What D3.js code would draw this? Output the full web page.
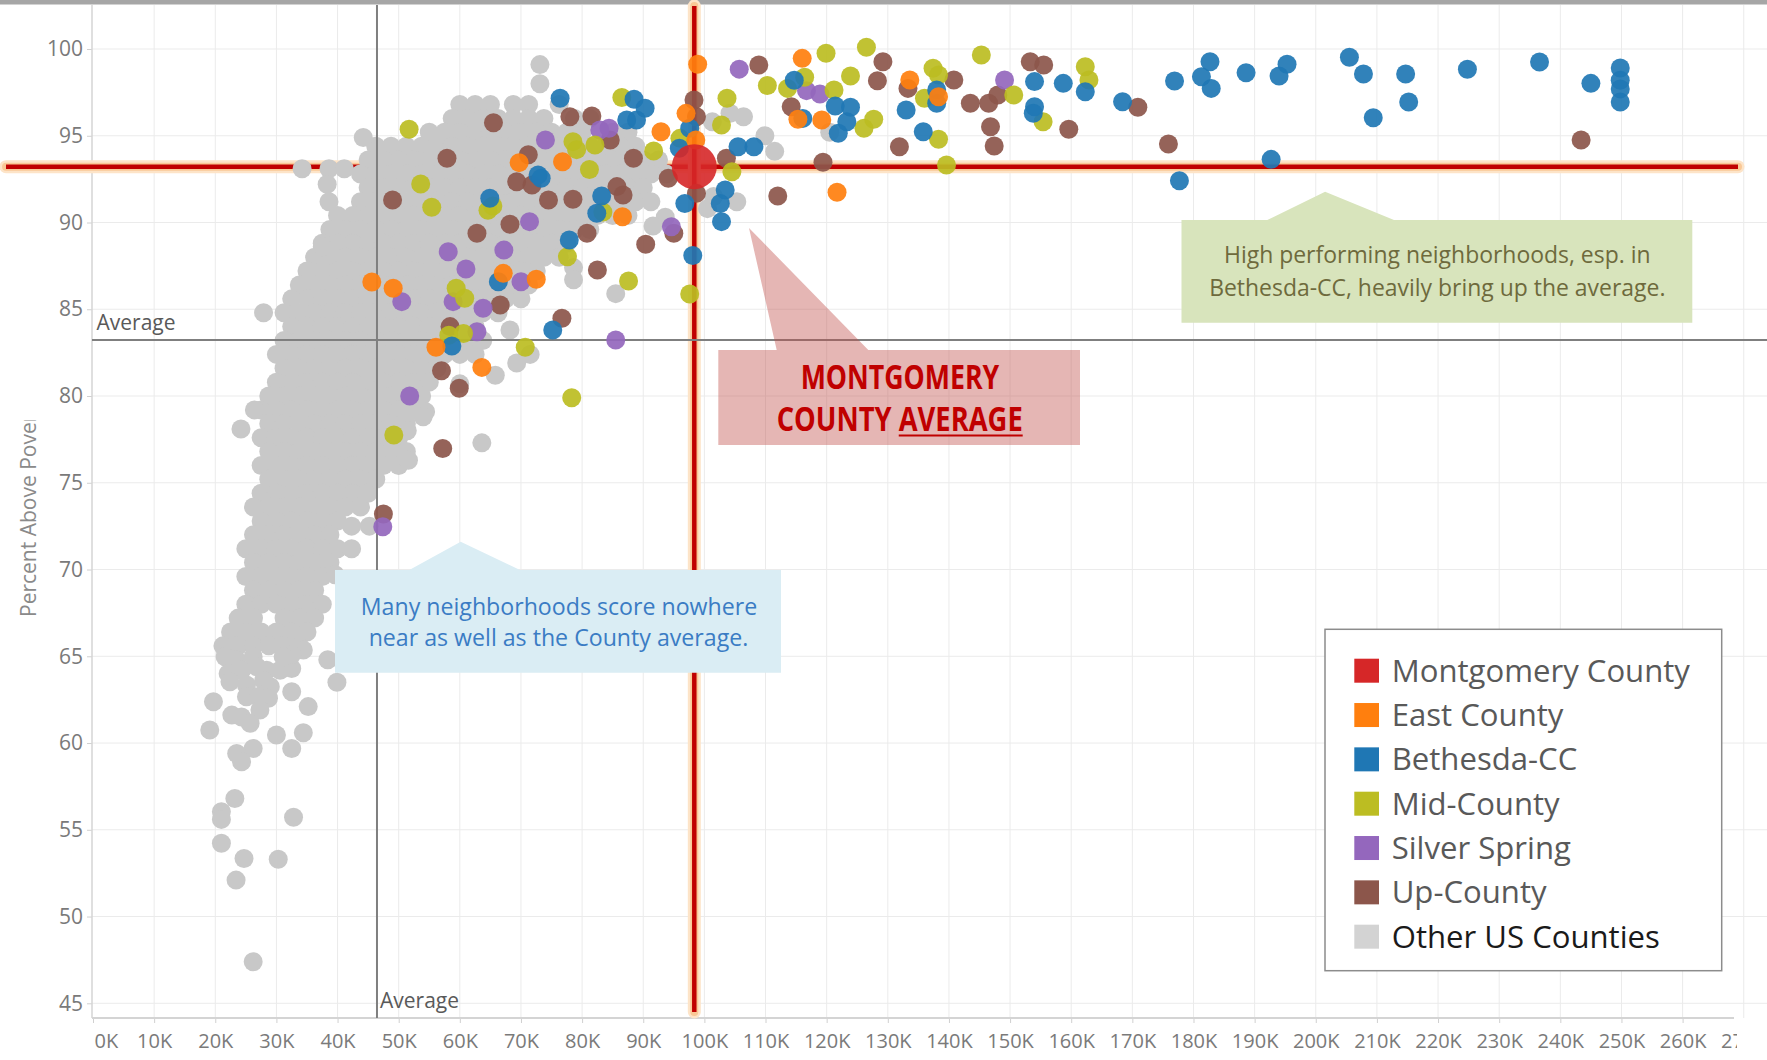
<!DOCTYPE html>
<html>
<head>
<meta charset="utf-8">
<script src="https://cdn.jsdelivr.net/npm/d3@7"></script>
<style>
  body { margin: 0; background: #fff; }
  svg { display: block; }
  text { font-family: "Open Sans", "Noto Sans", sans-serif; }
</style>
</head>
<body>
<svg id="chart"></svg>
<script>
// ---- values: x = median income (K$), y = percent above poverty ----
const xTicks = [0, 10, 20, 30, 40, 50, 60, 70, 80, 90, 100, 110, 120, 130, 140, 150, 160, 170, 180, 190, 200, 210, 220, 230, 240, 250, 260, 270];
const yTicks = [45, 50, 55, 60, 65, 70, 75, 80, 85, 90, 95, 100];

const avgX = 46.45, avgY = 83.23;            // grey "Average" reference lines
const countyAvgX = 98.35, countyAvgY = 93.22; // Montgomery County average (red)

const montgomery = [[98.35, 93.22]];

const eastCounty = [[98.9,99.12],[116.0,99.46],[115.3,95.95],[119.2,95.91],[133.6,98.21],[138.3,97.25],[121.7,91.74],[97.0,96.29],[98.6,94.75],[92.9,95.23],[86.6,90.33],[69.7,93.45],[76.8,93.5],[72.5,86.73],[67.1,87.07],[45.6,86.57],[49.1,86.21],[56.1,82.81],[63.6,81.65]];

const bethesda = [[76.4,97.16],[88.5,97.1],[90.3,96.58],[87.3,95.91],[88.9,95.91],[97.6,95.43],[95.9,94.28],[105.5,94.37],[108.1,94.37],[103.4,91.87],[102.6,91.1],[96.8,91.1],[102.8,90.05],[98.1,88.1],[72.8,92.74],[73.3,92.55],[83.2,91.53],[82.4,90.53],[64.9,91.4],[77.9,88.99],[66.3,86.59],[75.2,83.8],[58.7,82.88],[114.7,98.2],[116.1,96.0],[121.4,96.71],[123.9,96.64],[123.3,95.81],[121.9,95.14],[133.0,96.48],[138.0,97.64],[138.0,96.87],[135.8,95.23],[154.0,98.12],[154.0,96.67],[153.8,96.3],[158.7,98.02],[162.3,97.54],[168.4,96.96],[176.9,98.16],[182.7,99.27],[181.3,98.4],[182.9,97.73],[188.6,98.63],[194.0,98.44],[195.3,99.12],[205.5,99.52],[207.8,98.56],[209.4,96.04],[214.7,98.56],[215.2,96.95],[224.8,98.83],[236.6,99.25],[245.0,98.02],[249.8,98.9],[249.8,98.2],[249.8,97.7],[249.8,96.95],[192.7,93.64],[177.7,92.41]];

const midCounty = [[51.7,95.37],[53.6,92.22],[55.4,90.88],[49.2,77.75],[78.3,79.9],[86.5,97.21],[78.5,94.66],[79.1,94.2],[82.1,94.47],[81.2,93.06],[91.7,94.12],[96.0,94.85],[104.5,92.93],[103.7,97.16],[102.8,95.62],[83.4,90.6],[64.6,90.7],[65.4,90.95],[77.6,88.03],[87.6,86.63],[97.6,85.88],[59.4,86.21],[60.8,85.63],[58.2,83.5],[60.6,83.6],[70.7,82.81],[110.3,97.9],[113.6,97.73],[116.4,98.37],[119.9,99.75],[126.5,100.1],[121.2,97.64],[123.9,98.44],[126.1,95.43],[127.7,95.95],[136.0,97.16],[137.4,98.89],[138.3,98.5],[138.3,94.8],[139.6,93.31],[145.3,99.65],[150.6,97.35],[155.4,95.81],[162.3,98.98],[162.9,98.21]];

const silverSpring = [[105.7,98.84],[116.7,97.6],[118.9,97.4],[149.1,98.21],[84.4,95.43],[82.9,95.33],[74.0,94.76],[94.6,89.76],[71.4,90.05],[67.2,88.41],[61.0,87.32],[58.1,88.32],[70.0,86.59],[63.8,85.06],[58.9,85.44],[50.5,85.44],[62.8,83.7],[51.8,80.0],[85.5,83.23],[47.4,72.47]];

const upCounty = [[108.9,99.08],[129.2,99.27],[128.3,98.17],[114.2,96.67],[133.3,97.73],[140.8,98.21],[131.9,94.37],[143.5,96.87],[146.5,96.87],[146.8,95.52],[147.4,94.41],[148.0,97.35],[153.3,99.27],[155.5,99.08],[159.6,95.37],[170.9,96.64],[175.9,94.52],[243.4,94.76],[119.4,93.47],[112.0,91.53],[98.3,97.06],[98.7,96.1],[103.6,93.7],[88.4,93.7],[94.1,92.55],[98.7,91.68],[95.0,89.38],[90.4,88.75],[78.0,96.1],[81.6,96.14],[84.6,94.76],[65.5,95.75],[57.9,93.7],[49.0,91.3],[71.2,93.9],[69.3,92.35],[71.8,92.16],[74.5,91.3],[78.5,91.34],[85.7,92.07],[86.7,91.59],[68.2,89.9],[62.8,89.38],[80.8,89.38],[82.5,87.26],[66.6,85.25],[76.7,84.48],[58.4,84.0],[57.0,81.46],[59.9,80.45],[57.2,76.98],[47.5,73.2]];

// other US counties: the dense cloud, read row by row (y, then the x's along that row)
const grayRows = [
  [96.8, [60,62.5,65,68.75,71.25,76.25]],
  [96.0, [58.75,61.25,63.75,66.25,68.75,71.25,73.75,78.75,81.25]],
  [95.2, [55,57.5,60,62.5,65,67.5,70,72.5,75,77.5,80,85,87.5]],
  [94.4, [46.25,48.75,51.25,53.75,56.25,58.75,61.25,63.75,66.25,68.75,71.25,73.75,76.25,78.75,81.25,83.75,86.25,88.75]],
  [93.6, [45,47.5,50,52.5,55,57.5,60,62.5,65,67.5,70,72.5,75,77.5,80,82.5,85,87.5,90,92.5]],
  [92.8, [43.75,46.25,48.75,51.25,53.75,56.25,58.75,61.25,63.75,66.25,68.75,71.25,73.75,76.25,78.75,81.25,83.75,86.25,88.75,91.25,93.75]],
  [92.0, [45,47.5,50,52.5,55,57.5,60,62.5,65,67.5,70,72.5,75,77.5,80,82.5,85,87.5,90]],
  [91.2, [43.75,46.25,48.75,51.25,53.75,56.25,58.75,61.25,63.75,66.25,68.75,71.25,73.75,76.25,78.75,81.25,83.75,86.25,88.75,91.25]],
  [90.4, [40,42.5,45,47.5,50,52.5,55,57.5,60,62.5,65,67.5,70,72.5,75,77.5,80,82.5,85,87.5]],
  [89.6, [38.75,41.25,43.75,46.25,48.75,51.25,53.75,56.25,58.75,61.25,63.75,66.25,68.75,71.25,73.75,76.25,78.75,81.25]],
  [88.8, [37.5,40,42.5,45,47.5,50,52.5,55,57.5,60,62.5,65,67.5,70,72.5,75,77.5]],
  [88.0, [36.25,38.75,41.25,43.75,46.25,48.75,51.25,53.75,56.25,58.75,61.25,63.75,66.25,68.75,71.25,73.75,76.25]],
  [87.2, [35,37.5,40,42.5,45,47.5,50,52.5,55,57.5,60,62.5,65,67.5,70,72.5]],
  [86.4, [33.75,36.25,38.75,41.25,43.75,46.25,48.75,51.25,53.75,56.25,58.75,61.25,63.75,66.25,68.75,71.25]],
  [85.6, [32.5,35,37.5,40,42.5,45,47.5,50,52.5,55,57.5,60,62.5,65,67.5,70]],
  [84.8, [31.25,33.75,36.25,38.75,41.25,43.75,46.25,48.75,51.25,53.75,56.25,58.75,61.25,63.75,66.25]],
  [84.0, [32.5,35,37.5,40,42.5,45,47.5,50,52.5,55,57.5,60,62.5]],
  [83.2, [31.25,33.75,36.25,38.75,41.25,43.75,46.25,48.75,51.25,53.75,56.25,58.75,61.25,63.75]],
  [82.4, [30,32.5,35,37.5,40,42.5,45,47.5,50,52.5,55,57.5,60,62.5]],
  [81.6, [31.25,33.75,36.25,38.75,41.25,43.75,46.25,48.75,51.25,53.75,56.25]],
  [80.8, [30,32.5,35,37.5,40,42.5,45,47.5,50,52.5,55]],
  [80.0, [28.75,31.25,33.75,36.25,38.75,41.25,43.75,46.25,48.75,51.25,53.75]],
  [79.2, [27.5,30,32.5,35,37.5,40,42.5,45,47.5,50,52.5]],
  [78.4, [28.75,31.25,33.75,36.25,38.75,41.25,43.75,46.25,48.75,51.25]],
  [77.6, [27.5,30,32.5,35,37.5,40,42.5,45,47.5,50]],
  [76.8, [28.75,31.25,33.75,36.25,38.75,41.25,43.75,46.25,48.75,51.25]],
  [76.0, [27.5,30,32.5,35,37.5,40,42.5,45,47.5,50]],
  [75.2, [28.75,31.25,33.75,36.25,38.75,41.25,43.75,46.25]],
  [74.4, [27.5,30,32.5,35,37.5,40,42.5,45]],
  [73.6, [26.25,28.75,31.25,33.75,36.25,38.75,41.25,43.75]],
  [72.8, [27.5,30,32.5,35,37.5,40]],
  [72.0, [26.25,28.75,31.25,33.75,36.25,38.75]],
  [71.2, [25,27.5,30,32.5,35,37.5,40]],
  [70.4, [26.25,28.75,31.25,33.75,36.25,38.75]],
  [69.6, [25,27.5,30,32.5,35,37.5]],
  [68.8, [26.25,28.75,31.25,33.75,36.25]],
  [68.0, [25,27.5,30,32.5,35,37.5]],
  [67.2, [23.75,26.25,31.25,33.75,36.25]],
  [66.4, [22.5,25,27.5,30,32.5,35]],
  [65.6, [21.25,23.75,26.25,28.75,31.25,33.75]]
];

// scattered other US counties around the cloud
const grayLoose = [[73.1,99.1],[73.1,98.0],[44.2,94.9],[34.2,93.1],[38.6,93.1],[41.1,93.1],[38.3,92.2],[38.6,91.2],[37.5,88.6],[27.9,84.8],[26.4,79.2],[24.2,78.1],
  [101.3,95.8],[104.2,96.3],[106.4,96.1],[109.9,95.0],[111.5,94.1],[120.5,95.2],[105.3,91.2],[101.5,91.5],[100.5,90.8],[93.6,90.3],[91.6,89.8],[85.5,85.9],
  [78.6,87.4],[78.6,86.7],[68.2,83.8],[71.5,82.4],[69.3,81.9],[65.8,81.2],[60.0,80.7],[54.4,79.1],[54.0,78.8],[51.4,78.0],[63.6,77.3],[51.6,76.3],
  [44.6,74.4],[42.3,72.5],[45.2,72.5],[42.3,71.2],[39.6,69.7],[38.4,64.8],[39.9,63.5],
  [21.6,64.97],[23.5,64.78],[26.2,64.97],[22.1,64.0],[24.3,64.2],[26.8,64.4],[28.4,64.2],[22.4,63.53],[25.1,63.34],[27.9,63.6],[30.6,64.2],[32.5,64.3],
  [34.4,65.36],[32.5,65.1],[31.1,64.97],[29.0,63.25],[25.1,62.67],[27.0,62.67],[28.7,62.58],[27.3,61.9],[22.7,61.61],[24.3,61.5],[25.7,61.14],[19.7,62.38],
  [32.5,62.96],[35.2,62.1],[19.1,60.75],[30.0,60.46],[34.4,60.59],[32.5,59.69],[26.2,59.69],[23.5,59.4],[24.3,58.92],[23.2,56.8],[21.0,56.04],[21.0,55.6],
  [32.8,55.72],[21.0,54.22],[24.7,53.35],[30.3,53.3],[23.4,52.1],[26.2,47.4]];

const series = [
  {name: "Montgomery County", color: "#d62728", data: montgomery},
  {name: "East County", color: "#ff7f0e", data: eastCounty},
  {name: "Bethesda-CC", color: "#1f77b4", data: bethesda},
  {name: "Mid-County", color: "#bcbd22", data: midCounty},
  {name: "Silver Spring", color: "#9467bd", data: silverSpring},
  {name: "Up-County", color: "#8c564b", data: upCounty},
  {name: "Other US Counties", color: "#d3d3d3", data: null}
];

// ---- layout ----
const W = 1767, H = 1060;
const plot = {left: 92, right: 1742, top: 5, bottom: 1018};

const svg = d3.select('#chart').attr('width', W).attr('height', H);
svg.append('rect').attr('width', W).attr('height', H).attr('fill', '#fff');

const x = d3.scaleLinear().domain([0, 260]).range([93, 1682.6]);
const y = d3.scaleLinear().domain([45, 100]).range([1003.3, 49]);

const defs = svg.append('defs');
defs.append('clipPath').attr('id', 'xclip').append('rect')
  .attr('x', 0).attr('y', -30).attr('width', 1737).attr('height', 100);
defs.append('clipPath').attr('id', 'ytitleclip').append('rect')
  .attr('x', 0).attr('y', 420).attr('width', 80).attr('height', 300);

// grid
const grid = svg.append('g');
grid.selectAll('line.vg').data(xTicks.filter(d => d > 0)).join('line').attr('class', 'vg')
  .attr('x1', d => x(d)).attr('x2', d => x(d))
  .attr('y1', plot.top).attr('y2', plot.bottom)
  .attr('stroke', '#ebebeb').attr('stroke-width', 1);
grid.selectAll('line.hg').data(yTicks).join('line').attr('class', 'hg')
  .attr('x1', plot.left).attr('x2', W)
  .attr('y1', d => y(d)).attr('y2', d => y(d))
  .attr('stroke', '#ebebeb').attr('stroke-width', 1);

// top border bar
svg.append('rect').attr('x', 0).attr('y', 0).attr('width', W).attr('height', 4.5).attr('fill', '#a6a6a6');

// axes
const xAxis = svg.append('g')
  .attr('transform', `translate(0,${plot.bottom})`)
  .attr('clip-path', 'url(#xclip)')
  .call(d3.axisBottom(x).tickValues(xTicks).tickFormat(d => d + 'K').tickSize(5).tickPadding(11));
xAxis.select('.domain').remove();
xAxis.selectAll('.tick line').attr('stroke', '#d0d0d0');
xAxis.selectAll('.tick text').attr('font-size', 20).attr('fill', '#7a7a7a')
  .attr('font-family', '"Open Sans", sans-serif');
xAxis.selectAll('.tick text').filter(d => d === 0).attr('text-anchor', 'start').attr('x', 1);

svg.append('line').attr('x1', plot.left).attr('x2', 1734).attr('y1', plot.bottom).attr('y2', plot.bottom)
  .attr('stroke', '#d4d4d4').attr('stroke-width', 2);

const yAxis = svg.append('g')
  .attr('transform', `translate(${plot.left},0)`)
  .call(d3.axisLeft(y).tickValues(yTicks).tickSize(5).tickPadding(4));
yAxis.select('.domain').remove();
yAxis.selectAll('.tick line').attr('stroke', '#d0d0d0');
yAxis.selectAll('.tick text').attr('font-size', 21).attr('fill', '#7a7a7a')
  .attr('font-family', '"Open Sans", sans-serif');

svg.append('line').attr('x1', plot.left).attr('x2', plot.left).attr('y1', plot.top).attr('y2', plot.bottom)
  .attr('stroke', '#d4d4d4').attr('stroke-width', 1.5);

// axis title, cut off by the pane like in the original
svg.append('g').attr('clip-path', 'url(#ytitleclip)')
  .append('text')
  .attr('transform', 'translate(35.5,617) rotate(-90)')
  .attr('font-size', 21).attr('fill', '#8a8a8a')
  .text('Percent Above Poverty');

// county average reference lines (glowing red)
const refG = svg.append('g');
function glowLine(x1, y1, x2, y2) {
  refG.append('line').attr('x1', x1).attr('y1', y1).attr('x2', x2).attr('y2', y2)
    .attr('stroke', '#fde4c8').attr('stroke-width', 13).attr('stroke-linecap', 'round');
  refG.append('line').attr('x1', x1).attr('y1', y1).attr('x2', x2).attr('y2', y2)
    .attr('stroke', '#f9c896').attr('stroke-width', 8).attr('stroke-linecap', 'round');
  refG.append('line').attr('x1', x1).attr('y1', y1).attr('x2', x2).attr('y2', y2)
    .attr('stroke', '#c00000').attr('stroke-width', 4.5);
}
glowLine(6, y(countyAvgY), 1738, y(countyAvgY));
glowLine(x(countyAvgX), 6, x(countyAvgX), 1012);

// other US counties
const grayPts = grayRows.flatMap(([yv, xs]) => xs.map(xv => [xv, yv])).concat(grayLoose);
svg.append('g').selectAll('circle').data(grayPts).join('circle')
  .attr('cx', d => x(d[0])).attr('cy', d => y(d[1])).attr('r', 9.5)
  .attr('fill', '#c8c8c8');

// overall averages (grey lines)
svg.append('line').attr('x1', x(avgX)).attr('x2', x(avgX)).attr('y1', plot.top).attr('y2', plot.bottom)
  .attr('stroke', '#7f7f7f').attr('stroke-width', 2);
svg.append('line').attr('x1', plot.left).attr('x2', W).attr('y1', y(avgY)).attr('y2', y(avgY))
  .attr('stroke', '#7f7f7f').attr('stroke-width', 2);

// Montgomery regions
const regions = series.slice(1, 6).reverse();
regions.forEach(s => {
  svg.append('g').selectAll('circle').data(s.data).join('circle')
    .attr('cx', d => x(d[0])).attr('cy', d => y(d[1])).attr('r', 9.5)
    .attr('fill', s.color).attr('fill-opacity', 0.92);
});

// the county itself
svg.append('g').selectAll('circle').data(montgomery).join('circle')
  .attr('cx', d => x(d[0])).attr('cy', d => y(d[1])).attr('r', 22.5)
  .attr('fill', '#d62728').attr('fill-opacity', 0.9);

// "Average" labels
svg.append('text').attr('x', 96.5).attr('y', 330).attr('font-size', 21).attr('fill', '#595959').text('Average');
svg.append('text').attr('x', x(avgX) + 3).attr('y', 1008).attr('font-size', 21).attr('fill', '#595959').text('Average');

function fit(sel, target) {
  const w = sel.node().getComputedTextLength();
  const fs = +sel.attr('font-size');
  const nfs = fs * target / w;
  sel.attr('font-size', nfs);
  return nfs;
}

// annotation: high performers
svg.append('path')
  .attr('d', 'M1181.5,220 L1267.3,220 L1325.1,191.7 L1394,220 L1692.3,220 L1692.3,322.7 L1181.5,322.7 Z')
  .attr('fill', '#d8e4bc');
const g1 = svg.append('text').attr('x', 1437.3).attr('y', 263.3).attr('text-anchor', 'middle')
  .attr('font-size', 21).attr('fill', '#6e6a3c').text('High performing neighborhoods, esp. in');
const fs1 = fit(g1, 426.6);
svg.append('text').attr('x', 1437.3).attr('y', 296).attr('text-anchor', 'middle')
  .attr('font-size', fs1).attr('fill', '#6e6a3c').text('Bethesda-CC, heavily bring up the average.');

// annotation: many neighborhoods
svg.append('path')
  .attr('d', 'M335,570 L409.3,570 L460.7,541.7 L520,570 L781,570 L781,672.7 L335,672.7 Z')
  .attr('fill', '#daedf4');
const b1 = svg.append('text').attr('x', 559).attr('y', 615).attr('text-anchor', 'middle')
  .attr('font-size', 22).attr('fill', '#3a7cc4').text('Many neighborhoods score nowhere');
const fs2 = fit(b1, 396.7);
svg.append('text').attr('x', 558.5).attr('y', 646).attr('text-anchor', 'middle')
  .attr('font-size', fs2).attr('fill', '#3a7cc4').text('near as well as the County average.');

// annotation: county average callout
svg.append('path')
  .attr('d', 'M718.3,350 L776.7,350 L749,228 L868.3,350 L1080,350 L1080,445 L718.3,445 Z')
  .attr('fill', '#c0504d').attr('fill-opacity', 0.42);
const condensed = '"Liberation Sans Narrow", "DejaVu Sans Condensed", "Arial Narrow", sans-serif';
svg.append('text').attr('x', 900).attr('y', 389.3).attr('text-anchor', 'middle')
  .attr('font-family', condensed).attr('font-weight', 'bold').attr('font-size', 34)
  .attr('fill', '#c00000').attr('textLength', 198.6).attr('lengthAdjust', 'spacingAndGlyphs')
  .text('MONTGOMERY');
const t2 = svg.append('text').attr('x', 899.7).attr('y', 431).attr('text-anchor', 'middle')
  .attr('font-family', condensed).attr('font-weight', 'bold').attr('font-size', 34)
  .attr('fill', '#c00000').attr('textLength', 246).attr('lengthAdjust', 'spacingAndGlyphs')
  .text('COUNTY AVERAGE');
{
  const n = t2.node();
  const s = n.getStartPositionOfChar(7).x;
  const e = n.getEndPositionOfChar(13).x;
  svg.append('line').attr('x1', s).attr('x2', e).attr('y1', 435.5).attr('y2', 435.5)
    .attr('stroke', '#c00000').attr('stroke-width', 2);
}

// legend
const lg = svg.append('g');
lg.append('rect').attr('x', 1325).attr('y', 629.3).attr('width', 396.7).attr('height', 341.4)
  .attr('fill', '#fff').attr('stroke', '#8c8c8c').attr('stroke-width', 1.5);
const rows = lg.selectAll('g.item').data(series).join('g').attr('class', 'item')
  .attr('transform', (d, i) => `translate(0,${670.7 + i * 44.33})`);
rows.append('rect').attr('x', 1354.3).attr('y', -12).attr('width', 24.7).attr('height', 24)
  .attr('fill', d => d.color);
const labels = rows.append('text').attr('x', 1391.7).attr('y', 0).attr('dy', '0.35em')
  .attr('font-size', 31).attr('fill', (d, i) => i === 6 ? '#1a1a1a' : '#595959')
  .text(d => d.name);
const lfs = fit(labels.filter((d, i) => i === 0), 298.3);
labels.attr('font-size', lfs);
</script>
</body>
</html>
